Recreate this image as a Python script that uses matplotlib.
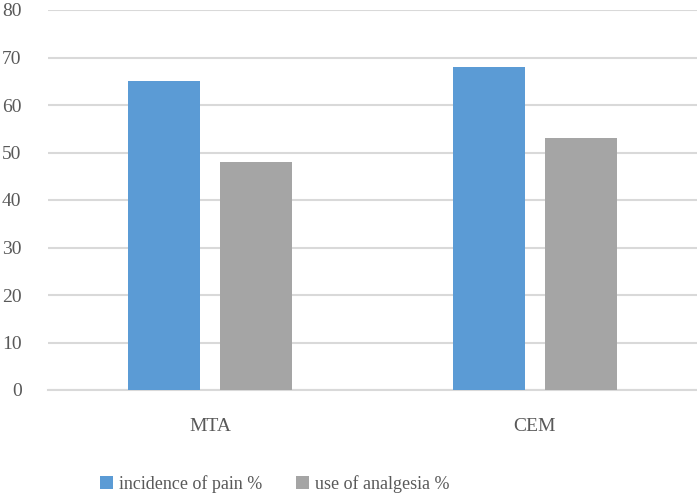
import matplotlib
matplotlib.use("Agg")
import matplotlib.pyplot as plt
import numpy as np

categories = ["MTA", "CEM"]
series_names = ["incidence of pain %", "use of analgesia %"]
pain = [65, 68]
analgesia = [48, 53]
yticks = [0, 10, 20, 30, 40, 50, 60, 70, 80]

plt.rcParams['font.family'] = ['Liberation Serif', 'DejaVu Serif']

fig = plt.figure(figsize=(6.97, 4.97), dpi=100)
ax = fig.add_axes([48/697, 107/497, 1 - 48/697, 380/497])

x = np.arange(len(categories))
w = 0.222
off = 0.142
ax.bar(x - off, pain, width=w, color="#5B9BD5", label=series_names[0], zorder=3)
ax.bar(x + off, analgesia, width=w, color="#A5A5A5", label=series_names[1], zorder=3)

ax.set_xlim(-0.5, 1.5)
ax.set_ylim(0, 80)
ax.set_yticks(yticks)
ax.yaxis.grid(True, color="#D9D9D9", linewidth=1.5, zorder=0)
ax.set_axisbelow(True)
for s in ["top", "right", "left"]:
    ax.spines[s].set_visible(False)
ax.spines["bottom"].set_color("#D9D9D9")
ax.spines["bottom"].set_linewidth(1.5)
ax.tick_params(axis="y", length=0, pad=19, labelsize=14, labelcolor="#595959")
ax.tick_params(axis="x", length=0, pad=20, labelsize=14, labelcolor="#595959")
ax.set_xticks(x)
ax.set_xticklabels(categories)

leg = fig.legend(loc="center left", bbox_to_anchor=(84/697, 13/497), ncol=2, frameon=False,
                 fontsize=13, handlelength=0.72, handleheight=0.72, handletextpad=0.3,
                 columnspacing=1.9, labelcolor="#595959")
fig.savefig("out.png", dpi=100)
